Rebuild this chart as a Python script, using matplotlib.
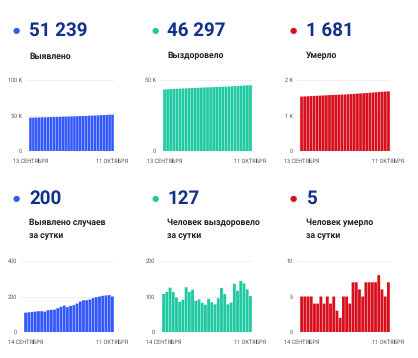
import matplotlib
matplotlib.use("Agg")
import matplotlib.pyplot as plt

plt.rcParams['font.family'] = ['Roboto', 'DejaVu Sans']
plt.rcParams['text.hinting'] = 'no_hinting'

# totals (13 Sep - 11 Oct)
total_cases = [46927, 47036, 47147, 47260, 47375, 47492, 47609, 47724, 47847, 47972,
               48098, 48232, 48374, 48523, 48663, 48810, 48961, 49121, 49293, 49472,
               49651, 49834, 50025, 50221, 50421, 50625, 50831, 51039, 51239]
total_recovered = [43373, 43480, 43593, 43718, 43831, 43928, 44013, 44104, 44230, 44343,
                   44462, 44550, 44642, 44724, 44801, 44894, 44978, 45056, 45151, 45275,
                   45382, 45460, 45543, 45679, 45795, 45939, 46076, 46196, 46297]
total_deaths = [1532, 1537, 1542, 1547, 1552, 1556, 1560, 1565, 1569, 1574,
                1578, 1583, 1586, 1588, 1593, 1598, 1602, 1609, 1616, 1622,
                1627, 1634, 1641, 1648, 1655, 1663, 1669, 1674, 1681]

# daily (14 Sep - 11 Oct)
daily_cases = [109, 111, 113, 115, 117, 117, 115, 123, 125, 126, 134, 142, 149, 140,
               147, 151, 160, 172, 179, 179, 183, 191, 196, 200, 204, 206, 208, 200]
daily_recovered = [107, 113, 125, 113, 97, 85, 91, 126, 113, 119, 88, 92, 82, 77,
                   93, 84, 78, 95, 124, 107, 78, 83, 136, 116, 144, 137, 120, 101]
daily_deaths = [5, 5, 5, 5, 4, 4, 5, 4, 5, 4, 5, 3, 2, 5,
                5, 4, 7, 7, 6, 5, 7, 7, 7, 7, 8, 6, 5, 7]

headline = ['51 239', '46 297', '1 681', '200', '127', '5']
titles = ['Выявлено', 'Выздоровело', 'Умерло',
          'Выявлено случаев\nза сутки', 'Человек выздоровело\nза сутки', 'Человек умерло\nза сутки']
first_date = ['13 СЕНТЯБРЯ', '14 СЕНТЯБРЯ']
last_date = '11 ОКТЯБРЯ'

BLUE = '#3358fb'
GREEN = '#1fc9a1'
RED = '#d80f1c'
NAVY = '#12318c'

W, H = 418, 358
fig = plt.figure(figsize=(W / 100, H / 100), dpi=100)


def fx(px):
    return px / W


def fy(py):
    return 1 - py / H


panels = [
    # values, color, yticks, ticklabels, bars left/right, axes left, top, bottom, dot x, text x, row
    (total_cases, BLUE, [0, 50000, 100000], ['0', '50 K', '100 K'], 29, 114, 26, 80, 151, 16, 29, 0),
    (total_recovered, GREEN, [0, 50000], ['0', '50 K'], 163, 252, 160, 80, 151, 155, 167, 0),
    (total_deaths, RED, [0, 1000, 2000], ['0', '1 K', '2 K'], 300, 390, 297, 80, 151, 293, 306, 0),
    (daily_cases, BLUE, [0, 200, 400], ['0', '200', '400'], 24, 114, 21, 261, 332, 16, 29, 1),
    (daily_recovered, GREEN, [0, 100, 200], ['0', '100', '200'], 162, 252, 159, 261, 332, 155, 167, 1),
    (daily_deaths, RED, [0, 5, 10], ['0', '5', '10'], 300, 390, 297, 261, 332, 293, 306, 1),
]

for i, (vals, col, yt, ytl, bl, br, al, top, bot, dx, tx, row) in enumerate(panels):
    n = len(vals)
    slot = (br - bl) / n
    ax = fig.add_axes([fx(al), fy(bot), fx(br - al), (bot - top) / H])
    ax.bar(range(n), vals, width=0.88, color=col, zorder=2, snap=False, linewidth=0)
    ax.set_xlim(-0.5 - (bl - al) / slot, n - 0.5)
    ax.set_ylim(0, yt[-1])
    ax.set_yticks(yt)
    ax.set_yticklabels(ytl)
    ax.set_xticks([0, n - 1])
    ax.set_xticklabels([first_date[row], last_date])
    ax.tick_params(length=0, labelsize=4.0, labelcolor='#555555')
    ax.tick_params(axis='y', pad=3)
    ax.tick_params(axis='x', pad=5)
    ax.grid(axis='y', color='#eeeeee', linewidth=0.7, zorder=0)
    for s in ax.spines.values():
        s.set_visible(False)

    ny = 31 if row == 0 else 199
    fig.text(fx(dx), fy(ny), '\u25cf', color=col, fontsize=6, ha='center', va='center')
    fig.text(fx(tx), fy(ny), headline[i], color=NAVY, fontsize=13.5, fontweight='bold',
             ha='left', va='center')
    if row == 0:
        fig.text(fx(tx), fy(56), titles[i], color='#222222', fontsize=6.2, fontweight='bold',
                 ha='left', va='center')
    else:
        fig.text(fx(tx), fy(218), titles[i], color='#222222', fontsize=6.2, fontweight='bold',
                 ha='left', va='top', linespacing=1.75)

fig.savefig('out.png', dpi=100)
